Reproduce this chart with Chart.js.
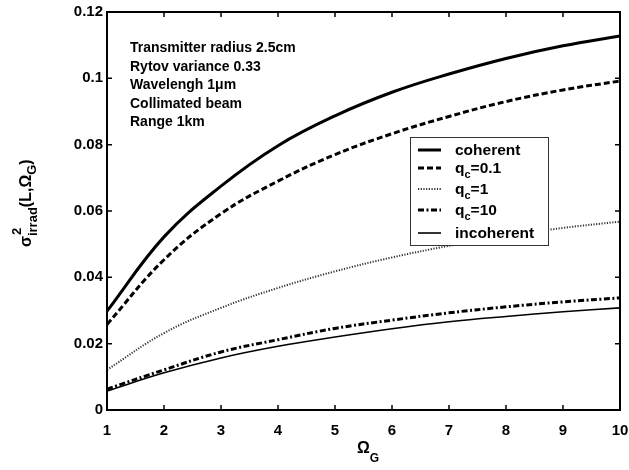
<!DOCTYPE html>
<html>
<head>
<meta charset="utf-8">
<script src="https://cdn.jsdelivr.net/npm/chart.js@4.4.1/dist/chart.umd.min.js"></script>
<style>
  html, body { margin: 0; padding: 0; background: #ffffff; }
  #wrap { width: 629px; height: 470px; }
</style>
</head>
<body>
<div id="wrap"><canvas id="c" width="629" height="470"></canvas></div>
<script>
// Normalized Rician-beam aperture parameter
const omegaG = [1, 2, 3, 4, 5, 6, 7, 8, 9, 10];

// Irradiance variance for each coherence setting
const coherent   = [0.0298, 0.0522, 0.0675, 0.0797, 0.0887, 0.0958, 0.1013, 0.1060, 0.1098, 0.1128];
const qc01       = [0.0258, 0.0453, 0.0592, 0.0690, 0.0770, 0.0833, 0.0885, 0.0930, 0.0965, 0.0992];
const qc1        = [0.0121, 0.0232, 0.0308, 0.0368, 0.0418, 0.0460, 0.0495, 0.0525, 0.0549, 0.0568];
const qc10       = [0.0063, 0.0121, 0.0175, 0.0212, 0.0246, 0.0271, 0.0293, 0.0311, 0.0326, 0.0338];
const incoherent = [0.0057, 0.0112, 0.0157, 0.0192, 0.0220, 0.0245, 0.0266, 0.0282, 0.0296, 0.0308];

// '_' marks a one-character subscript
const seriesLabels = ['coherent', 'q_c=0.1', 'q_c=1', 'q_c=10', 'incoherent'];
const xTickLabels = ['1', '2', '3', '4', '5', '6', '7', '8', '9', '10'];
const yTickLabels = ['0', '0.02', '0.04', '0.06', '0.08', '0.1', '0.12'];
const infoLines = ['Transmitter radius 2.5cm', 'Rytov variance 0.33', 'Wavelengh 1\u03bcm', 'Collimated beam', 'Range 1km'];

const FONT = '"Liberation Sans", Arial, Helvetica, sans-serif';

const seriesValues = [coherent, qc01, qc1, qc10, incoherent];
const seriesStyles = [
  { borderColor: '#000', borderWidth: 3,   borderDash: [] },
  { borderColor: '#000', borderWidth: 3,   borderDash: [6, 3] },
  { borderColor: '#333', borderWidth: 2,   borderDash: [1.2, 1.5] },
  { borderColor: '#000', borderWidth: 3,   borderDash: [6, 2.5, 2, 2.5] },
  { borderColor: '#000', borderWidth: 1.6, borderDash: [] }
];

const datasets = seriesValues.map((vals, i) => Object.assign({
  label: seriesLabels[i],
  data: vals.map((v, k) => ({ x: omegaG[k], y: v })),
  pointRadius: 0,
  fill: false,
  tension: 0.4
}, seriesStyles[i]));

// Draw text where '_' makes the next character a subscript
function drawRich(ctx, text, x, y, size, subSize, subDrop) {
  let cx = x;
  for (let i = 0; i < text.length; i++) {
    const ch = text[i];
    if (ch === '_') {
      i++;
      ctx.font = 'bold ' + subSize + 'px ' + FONT;
      ctx.fillText(text[i], cx, y + subDrop);
      cx += ctx.measureText(text[i]).width;
    } else {
      ctx.font = 'bold ' + size + 'px ' + FONT;
      ctx.fillText(ch, cx, y);
      cx += ctx.measureText(ch).width;
    }
  }
  return cx;
}

const decorations = {
  id: 'decorations',
  afterDraw(chart) {
    const ctx = chart.ctx;
    const a = chart.chartArea;
    const xs = chart.scales.x, ys = chart.scales.y;
    ctx.save();

    // frame
    ctx.strokeStyle = '#000';
    ctx.lineWidth = 2;
    ctx.setLineDash([]);
    ctx.strokeRect(a.left, a.top, a.right - a.left, a.bottom - a.top);

    // inward tick marks on all four sides
    ctx.lineWidth = 1.5;
    const tl = 5;
    ctx.beginPath();
    xs.ticks.forEach(t => {
      const px = xs.getPixelForValue(t.value);
      ctx.moveTo(px, a.bottom); ctx.lineTo(px, a.bottom - tl);
      ctx.moveTo(px, a.top); ctx.lineTo(px, a.top + tl);
    });
    ys.ticks.forEach(t => {
      const py = ys.getPixelForValue(t.value);
      ctx.moveTo(a.left, py); ctx.lineTo(a.left + tl, py);
      ctx.moveTo(a.right, py); ctx.lineTo(a.right - tl, py);
    });
    ctx.stroke();

    ctx.fillStyle = '#000';
    ctx.textBaseline = 'alphabetic';
    ctx.textAlign = 'left';

    // info block
    ctx.font = 'bold 14px ' + FONT;
    infoLines.forEach((s, i) => ctx.fillText(s, 130, 52 + i * 18.5));

    // legend box
    const lx = 410, ly = 137, lw = 138, lh = 108;
    ctx.fillStyle = '#fff';
    ctx.fillRect(lx, ly, lw, lh);
    ctx.strokeStyle = '#333';
    ctx.lineWidth = 1;
    ctx.strokeRect(lx + 0.5, ly + 0.5, lw, lh);
    const rows = [150, 168, 189, 210, 233];
    chart.data.datasets.forEach((ds, i) => {
      const yy = rows[i];
      ctx.strokeStyle = ds.borderColor;
      ctx.lineWidth = ds.borderWidth;
      ctx.setLineDash(ds.borderDash || []);
      ctx.beginPath();
      ctx.moveTo(418, yy); ctx.lineTo(441, yy);
      ctx.stroke();
      ctx.setLineDash([]);
      ctx.fillStyle = '#000';
      drawRich(ctx, ds.label, 455, yy + 5, 15.5, 11, 5);
    });

    // x axis title: Omega_G
    ctx.fillStyle = '#000';
    ctx.textAlign = 'left';
    drawRich(ctx, '\u03a9_G', 357, 453, 16, 12, 9);

    // y axis title: sigma^2_irrad(L,Omega_G), rotated
    ctx.translate(31, 200);
    ctx.rotate(-Math.PI / 2);
    const start = -47;
    ctx.font = 'bold 16px ' + FONT;
    ctx.fillText('\u03c3', start, 0);
    let cx = start + ctx.measureText('\u03c3').width;
    ctx.font = 'bold 13px ' + FONT;
    ctx.fillText('2', cx + 1, -10);
    ctx.fillText('irrad', cx, 6);
    cx += ctx.measureText('irrad').width;
    drawRich(ctx, '(L,\u03a9_G)', cx, 0, 16, 13, 5);

    ctx.restore();
  }
};

new Chart(document.getElementById('c'), {
  type: 'line',
  data: { datasets },
  options: {
    responsive: false,
    devicePixelRatio: 1,
    animation: false,
    layout: { padding: { top: 12, right: 9, left: 0, bottom: 0 } },
    plugins: { legend: { display: false }, tooltip: { enabled: false } },
    scales: {
      x: {
        type: 'linear', min: 1, max: 10,
        grid: { display: false, drawTicks: false },
        border: { display: false },
        ticks: {
          stepSize: 1, padding: 12, color: '#000', maxRotation: 0,
          font: { family: FONT, size: 15, weight: 'bold' },
          callback: (v, i) => xTickLabels[i]
        },
        afterFit: s => { s.height = 60; s.paddingLeft = 0; s.paddingRight = 0; }
      },
      y: {
        type: 'linear', min: 0, max: 0.12,
        grid: { display: false, drawTicks: false },
        border: { display: false },
        ticks: {
          stepSize: 0.02, padding: 4, color: '#000',
          font: { family: FONT, size: 15, weight: 'bold' },
          callback: (v, i) => yTickLabels[i]
        },
        afterFit: s => { s.width = 107; s.paddingTop = 0; s.paddingBottom = 0; }
      }
    }
  },
  plugins: [decorations]
});
</script>
</body>
</html>
